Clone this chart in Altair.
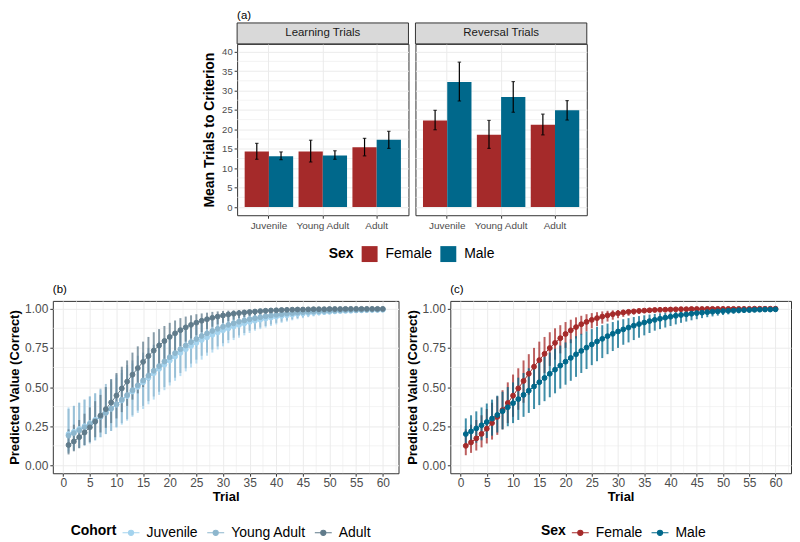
import altair as alt
import pandas as pd

FONT = "Liberation Sans"
GRID = "#EBEBEB"
BORDER = "#333333"
LABEL = "#4D4D4D"

# ---------------- Panel (a) data ----------------
cohorts = ["Juvenile", "Young Adult", "Adult"]
sexes = ["Female", "Male"]
phases = ["Learning Trials", "Reversal Trials"]
sex_colors = ["#A52A2A", "#00688B"]
cohort_colors = ["#A4D3EE", "#8DB6CD", "#607B8B"]

learn_mean_f = [14.3, 14.3, 15.4]
learn_lo_f = [12.3, 11.6, 13.2]
learn_hi_f = [16.4, 17.2, 17.7]
learn_mean_m = [13.1, 13.3, 17.3]
learn_lo_m = [12.2, 12.3, 15.1]
learn_hi_m = [14.2, 14.5, 19.5]
rev_mean_f = [22.3, 18.6, 21.2]
rev_lo_f = [19.9, 15.1, 18.6]
rev_hi_f = [24.9, 22.3, 23.9]
rev_mean_m = [32.2, 28.3, 24.9]
rev_lo_m = [27.3, 24.4, 22.4]
rev_hi_m = [37.3, 32.3, 27.4]

y_major_top = [0, 5, 10, 15, 20, 25, 30, 35, 40]
y_minor_top = [2.5, 7.5, 12.5, 17.5, 22.5, 27.5, 32.5, 37.5]

# ---------------- Panels (b), (c) data ----------------
trials = list(range(1, 61))

juv_mean = [0.200, 0.215, 0.232, 0.250, 0.270, 0.291, 0.313, 0.337, 0.362, 0.388,
            0.415, 0.443, 0.472, 0.501, 0.530, 0.559, 0.588, 0.616, 0.643, 0.669,
            0.694, 0.718, 0.741, 0.762, 0.782, 0.800, 0.817, 0.833, 0.848, 0.862,
            0.874, 0.886, 0.896, 0.906, 0.915, 0.923, 0.930, 0.937, 0.943, 0.949,
            0.954, 0.958, 0.962, 0.966, 0.969, 0.972, 0.975, 0.977, 0.979, 0.981,
            0.983, 0.985, 0.986, 0.987, 0.989, 0.990, 0.991, 0.992, 0.992, 0.993]
juv_lo = [0.090, 0.100, 0.115, 0.130, 0.145, 0.160, 0.180, 0.200, 0.220, 0.240,
          0.260, 0.285, 0.310, 0.335, 0.360, 0.390, 0.420, 0.450, 0.480, 0.510,
          0.540, 0.570, 0.600, 0.625, 0.650, 0.675, 0.700, 0.720, 0.740, 0.760,
          0.780, 0.800, 0.815, 0.830, 0.845, 0.860, 0.870, 0.880, 0.890, 0.900,
          0.910, 0.918, 0.926, 0.933, 0.940, 0.946, 0.951, 0.956, 0.960, 0.964,
          0.968, 0.971, 0.974, 0.976, 0.978, 0.980, 0.982, 0.984, 0.985, 0.986]
juv_hi = [0.370, 0.380, 0.400, 0.420, 0.440, 0.460, 0.480, 0.500, 0.530, 0.560,
          0.590, 0.620, 0.650, 0.670, 0.700, 0.720, 0.750, 0.770, 0.790, 0.810,
          0.830, 0.850, 0.860, 0.875, 0.890, 0.900, 0.910, 0.920, 0.930, 0.940,
          0.945, 0.950, 0.957, 0.963, 0.968, 0.972, 0.976, 0.979, 0.982, 0.984,
          0.986, 0.988, 0.989, 0.990, 0.991, 0.992, 0.993, 0.994, 0.995, 0.995,
          0.996, 0.996, 0.997, 0.997, 0.997, 0.998, 0.998, 0.998, 0.998, 0.999]

ya_mean = [0.190, 0.206, 0.224, 0.243, 0.264, 0.286, 0.310, 0.335, 0.362, 0.390,
           0.419, 0.449, 0.480, 0.511, 0.542, 0.573, 0.604, 0.634, 0.663, 0.691,
           0.717, 0.742, 0.765, 0.787, 0.807, 0.826, 0.843, 0.858, 0.872, 0.885,
           0.897, 0.907, 0.917, 0.925, 0.933, 0.940, 0.946, 0.952, 0.957, 0.961,
           0.965, 0.969, 0.972, 0.975, 0.978, 0.980, 0.982, 0.984, 0.986, 0.987,
           0.988, 0.990, 0.991, 0.992, 0.992, 0.993, 0.994, 0.995, 0.995, 0.996]
ya_lo = [0.080, 0.095, 0.110, 0.125, 0.140, 0.160, 0.180, 0.200, 0.220, 0.245,
         0.270, 0.295, 0.320, 0.350, 0.380, 0.410, 0.440, 0.470, 0.500, 0.530,
         0.560, 0.590, 0.620, 0.650, 0.675, 0.700, 0.720, 0.740, 0.760, 0.780,
         0.800, 0.815, 0.830, 0.845, 0.860, 0.870, 0.880, 0.890, 0.900, 0.910,
         0.918, 0.926, 0.933, 0.940, 0.946, 0.951, 0.956, 0.960, 0.964, 0.968,
         0.971, 0.974, 0.976, 0.978, 0.980, 0.982, 0.984, 0.985, 0.986, 0.987]
ya_hi = [0.360, 0.380, 0.400, 0.420, 0.440, 0.460, 0.490, 0.520, 0.550, 0.580,
         0.610, 0.640, 0.670, 0.700, 0.720, 0.750, 0.770, 0.790, 0.810, 0.830,
         0.850, 0.870, 0.880, 0.895, 0.910, 0.920, 0.930, 0.940, 0.947, 0.953,
         0.958, 0.963, 0.967, 0.971, 0.975, 0.978, 0.981, 0.983, 0.985, 0.987,
         0.988, 0.989, 0.990, 0.991, 0.992, 0.993, 0.994, 0.995, 0.995, 0.996,
         0.996, 0.997, 0.997, 0.997, 0.998, 0.998, 0.998, 0.998, 0.999, 0.999]

ad_mean = [0.130, 0.153, 0.180, 0.210, 0.243, 0.279, 0.318, 0.359, 0.402, 0.446,
           0.491, 0.535, 0.579, 0.621, 0.661, 0.698, 0.733, 0.765, 0.794, 0.820,
           0.843, 0.863, 0.881, 0.897, 0.911, 0.923, 0.933, 0.942, 0.950, 0.957,
           0.963, 0.968, 0.972, 0.976, 0.979, 0.982, 0.985, 0.987, 0.989, 0.990,
           0.992, 0.993, 0.994, 0.995, 0.995, 0.996, 0.997, 0.997, 0.997, 0.998,
           0.998, 0.998, 0.999, 0.999, 0.999, 0.999, 0.999, 0.999, 0.999, 0.999]
ad_lo = [0.070, 0.090, 0.110, 0.130, 0.150, 0.180, 0.210, 0.240, 0.270, 0.300,
         0.340, 0.380, 0.420, 0.460, 0.500, 0.540, 0.580, 0.620, 0.660, 0.700,
         0.730, 0.760, 0.790, 0.810, 0.830, 0.850, 0.870, 0.885, 0.900, 0.910,
         0.920, 0.930, 0.940, 0.947, 0.953, 0.958, 0.963, 0.967, 0.971, 0.974,
         0.977, 0.980, 0.982, 0.984, 0.986, 0.987, 0.989, 0.990, 0.991, 0.992,
         0.993, 0.994, 0.994, 0.995, 0.995, 0.996, 0.996, 0.997, 0.997, 0.997]
ad_hi = [0.230, 0.260, 0.290, 0.330, 0.370, 0.410, 0.450, 0.500, 0.550, 0.590,
         0.630, 0.670, 0.720, 0.760, 0.790, 0.820, 0.850, 0.870, 0.890, 0.910,
         0.925, 0.940, 0.950, 0.958, 0.965, 0.970, 0.975, 0.980, 0.983, 0.986,
         0.988, 0.990, 0.992, 0.993, 0.994, 0.995, 0.996, 0.997, 0.997, 0.998,
         0.998, 0.998, 0.998, 0.999, 0.999, 0.999, 0.999, 0.999, 0.999, 0.999,
         0.999, 0.999, 1.000, 1.000, 1.000, 1.000, 1.000, 1.000, 1.000, 1.000]

fem_mean = [0.125, 0.147, 0.172, 0.201, 0.234, 0.270, 0.310, 0.353, 0.398, 0.445,
            0.492, 0.539, 0.585, 0.630, 0.672, 0.712, 0.749, 0.782, 0.812, 0.839,
            0.862, 0.883, 0.901, 0.916, 0.929, 0.940, 0.950, 0.958, 0.965, 0.971,
            0.976, 0.980, 0.983, 0.986, 0.988, 0.990, 0.992, 0.993, 0.994, 0.995,
            0.996, 0.997, 0.997, 0.998, 0.998, 0.998, 0.999, 0.999, 0.999, 0.999,
            0.999, 0.999, 0.999, 0.999, 0.999, 1.000, 1.000, 1.000, 1.000, 1.000]
fem_lo = [0.065, 0.080, 0.095, 0.115, 0.140, 0.165, 0.195, 0.230, 0.270, 0.310,
          0.355, 0.400, 0.450, 0.500, 0.545, 0.590, 0.635, 0.675, 0.715, 0.750,
          0.780, 0.810, 0.835, 0.855, 0.875, 0.890, 0.905, 0.918, 0.930, 0.940,
          0.948, 0.955, 0.962, 0.967, 0.972, 0.976, 0.979, 0.982, 0.985, 0.987,
          0.989, 0.990, 0.992, 0.993, 0.994, 0.995, 0.995, 0.996, 0.997, 0.997,
          0.997, 0.998, 0.998, 0.998, 0.998, 0.999, 0.999, 0.999, 0.999, 0.999]
fem_hi = [0.230, 0.260, 0.290, 0.320, 0.360, 0.400, 0.440, 0.480, 0.530, 0.580,
          0.620, 0.670, 0.710, 0.750, 0.790, 0.820, 0.850, 0.875, 0.895, 0.915,
          0.930, 0.945, 0.955, 0.965, 0.972, 0.978, 0.983, 0.987, 0.990, 0.992,
          0.994, 0.995, 0.996, 0.997, 0.998, 0.998, 0.999, 0.999, 0.999, 0.999,
          0.999, 1.000, 1.000, 1.000, 1.000, 1.000, 1.000, 1.000, 1.000, 1.000,
          1.000, 1.000, 1.000, 1.000, 1.000, 1.000, 1.000, 1.000, 1.000, 1.000]

male_mean = [0.200, 0.217, 0.236, 0.256, 0.277, 0.299, 0.322, 0.346, 0.371, 0.397,
             0.423, 0.450, 0.477, 0.504, 0.531, 0.558, 0.585, 0.611, 0.637, 0.662,
             0.686, 0.709, 0.731, 0.752, 0.772, 0.791, 0.808, 0.825, 0.840, 0.855,
             0.868, 0.880, 0.892, 0.902, 0.912, 0.921, 0.929, 0.936, 0.943, 0.949,
             0.955, 0.960, 0.964, 0.968, 0.972, 0.975, 0.978, 0.981, 0.983, 0.985,
             0.987, 0.988, 0.990, 0.991, 0.992, 0.993, 0.994, 0.995, 0.995, 0.996]
male_lo = [0.120, 0.130, 0.145, 0.160, 0.175, 0.190, 0.210, 0.230, 0.250, 0.270,
           0.290, 0.310, 0.335, 0.360, 0.385, 0.410, 0.435, 0.460, 0.490, 0.515,
           0.540, 0.565, 0.590, 0.615, 0.640, 0.665, 0.685, 0.710, 0.730, 0.750,
           0.770, 0.785, 0.800, 0.815, 0.830, 0.845, 0.860, 0.870, 0.880, 0.890,
           0.900, 0.910, 0.918, 0.926, 0.933, 0.940, 0.946, 0.951, 0.956, 0.960,
           0.964, 0.968, 0.971, 0.974, 0.976, 0.978, 0.980, 0.982, 0.984, 0.985]
male_hi = [0.300, 0.320, 0.345, 0.370, 0.395, 0.420, 0.445, 0.470, 0.500, 0.530,
           0.560, 0.590, 0.620, 0.645, 0.670, 0.695, 0.720, 0.745, 0.765, 0.785,
           0.805, 0.825, 0.840, 0.855, 0.870, 0.885, 0.895, 0.905, 0.915, 0.925,
           0.933, 0.940, 0.947, 0.953, 0.958, 0.963, 0.967, 0.971, 0.975, 0.978,
           0.981, 0.983, 0.985, 0.987, 0.988, 0.990, 0.991, 0.992, 0.993, 0.994,
           0.994, 0.995, 0.996, 0.996, 0.997, 0.997, 0.997, 0.998, 0.998, 0.998]

x_major_bottom = [0, 5, 10, 15, 20, 25, 30, 35, 40, 45, 50, 55, 60]
x_minor_bottom = [2.5, 7.5, 12.5, 17.5, 22.5, 27.5, 32.5, 37.5, 42.5, 47.5, 52.5, 57.5, 62.5]
y_major_bottom = [0, 0.25, 0.5, 0.75, 1.0]
y_minor_bottom = [0.125, 0.375, 0.625, 0.875]

# ---------------- build tables ----------------
rows = []
for phase, mf, lf, hf, mm, lm, hm in [
    ("Learning Trials", learn_mean_f, learn_lo_f, learn_hi_f, learn_mean_m, learn_lo_m, learn_hi_m),
    ("Reversal Trials", rev_mean_f, rev_lo_f, rev_hi_f, rev_mean_m, rev_lo_m, rev_hi_m),
]:
    for i, c in enumerate(cohorts):
        rows.append(dict(Phase=phase, Cohort=c, Sex="Female", Mean=mf[i], Lo=lf[i], Hi=hf[i]))
        rows.append(dict(Phase=phase, Cohort=c, Sex="Male", Mean=mm[i], Lo=lm[i], Hi=hm[i]))
df_a = pd.DataFrame(rows)


def long_table(group_field, groups, means, los, his):
    out = []
    for g, m, lo, hi in zip(groups, means, los, his):
        for t, a, b, c in zip(trials, m, lo, hi):
            out.append({"Trial": t, group_field: g, "Mean": a, "Lo": b, "Hi": c})
    return pd.DataFrame(out)


df_b = long_table("Cohort", cohorts, [juv_mean, ya_mean, ad_mean], [juv_lo, ya_lo, ad_lo], [juv_hi, ya_hi, ad_hi])
df_c = long_table("Sex", sexes, [fem_mean, male_mean], [fem_lo, male_lo], [fem_hi, male_hi])

# ---------------- panel (a) ----------------
TOP_W, TOP_H = 172, 172


def top_panel(phase, first):
    d = df_a[df_a.Phase == phase]
    yscale = alt.Scale(domain=[-2.1, 42.0], nice=False, zero=False)
    yaxis = alt.Axis(values=y_major_top, title="Mean Trials to Criterion" if first else "",
                     labels=first, ticks=first, domain=False, grid=True, gridColor=GRID, gridWidth=1,
                     labelFontSize=9.5, labelColor=LABEL, labelPadding=2, tickColor=BORDER, tickSize=3,
                     titleFontSize=14, titleFontWeight="bold", titleColor="black", titlePadding=5)
    xaxis = alt.Axis(title=None, labelFontSize=10, labelColor=LABEL, labelPadding=2, labelAngle=0,
                     tickColor=BORDER, tickSize=3, domain=False, grid=True, gridColor=GRID, gridWidth=1,
                     bandPosition=0.5)
    xenc = alt.X("Cohort:N", sort=cohorts, scale=alt.Scale(paddingInner=0.1, paddingOuter=0.14), axis=xaxis)
    xoff = alt.XOffset("Sex:N", sort=sexes, scale=alt.Scale(paddingInner=0, paddingOuter=0))
    if first:
        leg = alt.Legend(title="Sex", orient="none", legendX=92, legendY=203, direction="horizontal",
                         titleOrient="left", titleFontSize=14, titleFontWeight="bold", titleColor="black",
                         labelFontSize=14, labelColor="black", symbolType="square", symbolSize=256,
                         symbolStrokeWidth=0, symbolOpacity=1, columnPadding=8, labelOffset=8,
                         titlePadding=8, padding=0)
    else:
        leg = None
    color = alt.Color("Sex:N", scale=alt.Scale(domain=sexes, range=sex_colors), legend=leg)

    minor = alt.Chart(pd.DataFrame({"v": y_minor_top})).mark_rule(color=GRID, strokeWidth=0.6).encode(
        y=alt.Y("v:Q", scale=yscale, axis=yaxis))
    base = alt.Chart(d)
    bars = base.mark_bar().encode(x=xenc, xOffset=xoff, y=alt.Y("Mean:Q", scale=yscale, axis=yaxis),
                                  y2=alt.datum(0), color=color)
    err = base.mark_rule(color="black", strokeWidth=1.2).encode(
        x=xenc, xOffset=xoff, y=alt.Y("Lo:Q", scale=yscale, axis=yaxis), y2="Hi:Q")
    cap_lo = base.mark_tick(color="black", size=3.5, thickness=1.2).encode(
        x=xenc, xOffset=xoff, y=alt.Y("Lo:Q", scale=yscale, axis=yaxis))
    cap_hi = base.mark_tick(color="black", size=3.5, thickness=1.2).encode(
        x=xenc, xOffset=xoff, y=alt.Y("Hi:Q", scale=yscale, axis=yaxis))
    sdata = alt.Chart(pd.DataFrame({"Panel": [phase]}))
    strip = sdata.mark_rect(fill="#D9D9D9", stroke=BORDER, strokeWidth=1).encode(
        x=alt.value(0), x2=alt.value(TOP_W), y=alt.value(-21), y2=alt.value(0))
    stext = sdata.mark_text(fontSize=11.5, color="#1A1A1A", baseline="middle").encode(
        x=alt.value(TOP_W / 2), y=alt.value(-10.5), text="Panel:N")
    ch = alt.layer(minor, bars, err, cap_lo, cap_hi, strip, stext).properties(width=TOP_W, height=TOP_H)
    if first:
        ch = ch.properties(title=alt.Title("(a)", anchor="start", frame="group", fontSize=11.5,
                                           fontWeight="normal", color="black", offset=1))
    return ch


spacer = alt.Chart(pd.DataFrame({"a": [0]})).mark_point(opacity=0).encode(
    x=alt.value(0), y=alt.value(0)).properties(width=178, height=TOP_H,
                                               view=alt.ViewBackground(stroke="transparent"))

top_row = alt.hconcat(spacer, top_panel("Learning Trials", True), top_panel("Reversal Trials", False),
                      spacing=7, bounds="flush").resolve_legend(color="independent")

# ---------------- panels (b), (c) ----------------
SYM = "M-1,0H1M0.3,0A0.3,0.3,0,1,1,-0.3,0A0.3,0.3,0,1,1,0.3,0Z"


def curve_panel(df, field, domain, colors, title, legend_title, lx, width):
    xscale = alt.Scale(domain=[-1.95, 62.95], nice=False, zero=False)
    yscale = alt.Scale(domain=[-0.05, 1.05], nice=False, zero=False)
    xaxis = alt.Axis(values=x_major_bottom, title="Trial", domain=False, grid=True, gridColor=GRID,
                     gridWidth=1, labelFontSize=12, labelColor=LABEL, labelPadding=1, labelFlush=False,
                     tickColor=BORDER, tickSize=3, titleFontSize=13, titleFontWeight="bold",
                     titleColor="black", titlePadding=2)
    yaxis = alt.Axis(values=y_major_bottom, format=".2f", title="Predicted Value (Correct)", domain=False,
                     grid=True, gridColor=GRID, gridWidth=1, labelFontSize=12, labelColor=LABEL,
                     labelPadding=2, tickColor=BORDER, tickSize=3, titleFontSize=13,
                     titleFontWeight="bold", titleColor="black", titlePadding=3)
    leg = alt.Legend(title=legend_title, orient="none", legendX=lx, legendY=223, direction="horizontal",
                     titleOrient="left", titleFontSize=14, titleFontWeight="bold", titleColor="black",
                     labelFontSize=14, labelColor="black", symbolType=SYM, symbolSize=289,
                     symbolStrokeWidth=1.2, symbolOpacity=1, columnPadding=6, labelOffset=6,
                     titlePadding=5, padding=0)
    sc = alt.Scale(domain=domain, range=colors)
    stroke = alt.Stroke(f"{field}:N", scale=sc, legend=leg)
    fill = alt.Fill(f"{field}:N", scale=sc, legend=leg)
    xm = alt.Chart(pd.DataFrame({"v": x_minor_bottom})).mark_rule(color=GRID, strokeWidth=0.6).encode(
        x=alt.X("v:Q", scale=xscale, axis=xaxis))
    ym = alt.Chart(pd.DataFrame({"v": y_minor_bottom})).mark_rule(color=GRID, strokeWidth=0.6).encode(
        y=alt.Y("v:Q", scale=yscale, axis=yaxis))
    base = alt.Chart(df)
    x = alt.X("Trial:Q", scale=xscale, axis=xaxis)
    err = base.mark_rule(strokeWidth=2, opacity=0.75).encode(
        x=x, y=alt.Y("Lo:Q", scale=yscale, axis=yaxis), y2="Hi:Q", stroke=stroke)
    line = base.mark_line(strokeWidth=1).encode(
        x=x, y=alt.Y("Mean:Q", scale=yscale, axis=yaxis), stroke=stroke)
    pts = base.mark_point(filled=False, size=24, opacity=1, strokeWidth=1).encode(
        x=x, y=alt.Y("Mean:Q", scale=yscale, axis=yaxis), stroke=stroke, fill=fill)
    return alt.layer(xm, ym, err, line, pts).properties(
        width=width, height=173,
        title=alt.Title(title, anchor="start", frame="group", fontSize=11.5, fontWeight="normal",
                        color="black", offset=5))


panel_b = curve_panel(df_b, "Cohort", cohorts, cohort_colors, "(b)", "Cohort", 18, 347)
panel_c = curve_panel(df_c, "Sex", sexes, sex_colors, "(c)", "Sex", 91, 342)

bottom_row = alt.hconcat(panel_b, panel_c, spacing=52, bounds="flush").resolve_scale(
    fill="independent", stroke="independent")

chart = alt.vconcat(top_row, bottom_row, spacing=20).resolve_scale(
    color="independent", fill="independent", stroke="independent").properties(padding=0).configure(
    font=FONT).configure_view(stroke=BORDER, strokeWidth=1)

chart.save("out.html", embed_options={"renderer": "svg", "actions": False})
